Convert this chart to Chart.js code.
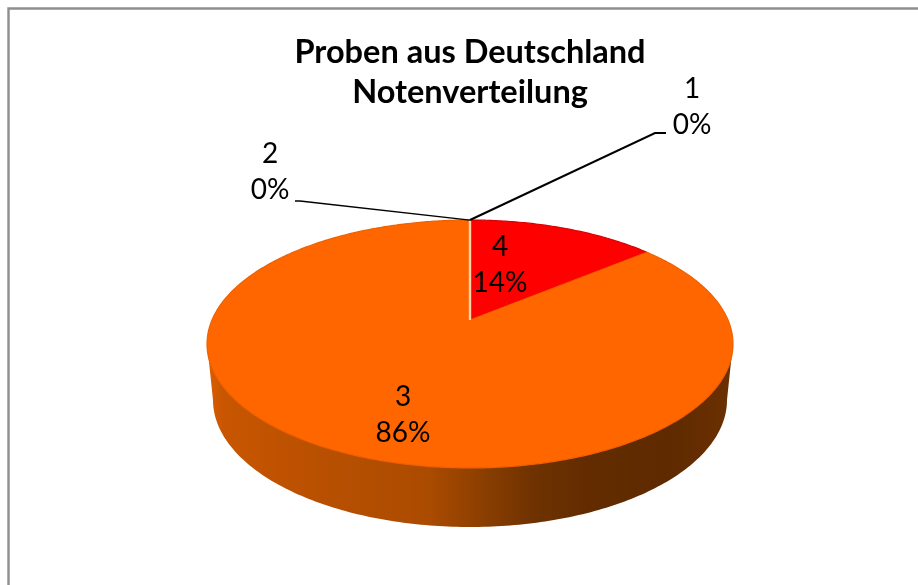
<!DOCTYPE html>
<html>
<head>
<meta charset="utf-8">
<style>html,body{margin:0;padding:0;background:#fff;overflow:hidden}canvas{display:block}</style>
<script src="https://cdn.jsdelivr.net/npm/chart.js@4"></script>
</head>
<body>
<canvas id="c" width="918" height="585"></canvas>
<script>
const categories = ['4', '3', '2', '1'];
const shares = [14, 86, 0, 0];
const sliceColors = ['#FF0000', '#FF6600', '#A5A5A5', '#4472C4'];
const sliceEdges = ['#D80000', '#EE6000', '#A5A5A5', '#4472C4'];
const titleLines = ['Proben aus Deutschland', 'Notenverteilung'];

const FONT = 'Lato, Carlito, sans-serif';
// Perspective of the tilted pie: unit-circle (u,v) -> screen
const TILT = { cy: 320, a: 57.4, c: -0.1935 };
const RADIUS = 258;
const DEPTH = { cy: 400, rx: 257, ry: 127 };
const labelPlaces = {
  '4': { x: 500, y: 247 },
  '3': { x: 403, y: 397 },
  '2': { x: 270, y: 154, leader: [[300, 201], [295, 201]], lw: 1.3 },
  '1': { x: 692, y: 89, leader: [[655, 133], [666, 133]], lw: 2 }
};
const LABEL_GAP = 36;

function project(cx, r, angle) {
  const u = Math.cos(angle), v = Math.sin(angle), w = 1 + TILT.c * v;
  return [cx + r * u / w, (TILT.cy + TILT.a * v) / w];
}

// Slices come from the library's own angles; only the projection is changed.
Chart.ArcElement.prototype.draw = function (ctx) {
  const p = this.getProps(['x', 'startAngle', 'endAngle', 'outerRadius']);
  if (p.endAngle - p.startAngle <= 1e-6) return;
  const o = this.options;
  ctx.save();
  ctx.beginPath();
  ctx.moveTo(p.x, TILT.cy);
  const steps = Math.max(2, Math.ceil((p.endAngle - p.startAngle) * 90));
  for (let i = 0; i <= steps; i++) {
    const q = project(p.x, p.outerRadius, p.startAngle + (p.endAngle - p.startAngle) * i / steps);
    ctx.lineTo(q[0], q[1]);
  }
  ctx.closePath();
  ctx.fillStyle = o.backgroundColor;
  ctx.fill();
  ctx.lineWidth = o.borderWidth;
  ctx.strokeStyle = o.borderColor;
  ctx.lineJoin = 'round';
  ctx.stroke();
  ctx.restore();
};

const framePlugin = {
  id: 'frame',
  beforeDraw(chart) {
    const ctx = chart.ctx;
    ctx.save();
    ctx.strokeStyle = '#8E8E8E';
    ctx.lineWidth = 2.4;
    ctx.beginPath();
    ctx.moveTo(8.5, 585);
    ctx.lineTo(8.5, 8.5);
    ctx.lineTo(918, 8.5);
    ctx.stroke();
    ctx.restore();
  }
};

const sidePlugin = {
  id: 'side',
  beforeDatasetsDraw(chart) {
    const ctx = chart.ctx;
    const arc = chart.getDatasetMeta(0).data[1];
    const cx = arc.x, r = arc.outerRadius;
    const g = ctx.createLinearGradient(207, 0, 733, 0);
    [[0, '#DE5E00'], [0.03, '#C85600'], [0.2, '#BA5000'], [0.42, '#AB4B00'], [0.52, '#8C3F00'],
     [0.62, '#6F3200'], [0.72, '#632C00'], [0.88, '#5F2A00'], [1, '#6C3000']].forEach(s => g.addColorStop(s[0], s[1]));
    ctx.save();
    ctx.beginPath();
    for (let i = 0; i <= 180; i++) {
      const t = i * Math.PI / 180;
      const x = cx + DEPTH.rx * Math.cos(t), y = DEPTH.cy + DEPTH.ry * Math.sin(t);
      if (i === 0) ctx.moveTo(x, y); else ctx.lineTo(x, y);
    }
    const left = project(cx, r, Math.PI * 0.94), right = project(cx, r, Math.PI * 0.06);
    ctx.lineTo(left[0], left[1]);
    ctx.lineTo(right[0], right[1]);
    ctx.closePath();
    ctx.fillStyle = g;
    ctx.fill();
    ctx.restore();
  }
};

const labelPlugin = {
  id: 'sliceLabels',
  afterDatasetsDraw(chart) {
    const ctx = chart.ctx;
    const data = chart.data.datasets[0].data;
    const total = data.reduce((a, b) => a + b, 0);
    const arcs = chart.getDatasetMeta(0).data;
    const first = arcs[0];
    const apex = project(first.x, first.outerRadius, first.startAngle);
    ctx.save();
    // light seam between the slices at twelve o'clock
    ctx.strokeStyle = '#F9D3AE';
    ctx.lineWidth = 2.4;
    ctx.beginPath();
    ctx.moveTo(first.x, apex[1]);
    ctx.lineTo(first.x, TILT.cy);
    ctx.stroke();
    // leader lines of the empty slices
    ctx.strokeStyle = '#000';
    chart.data.labels.forEach((name, i) => {
      const place = labelPlaces[name];
      if (!place.leader) return;
      const p = project(arcs[i].x, arcs[i].outerRadius, arcs[i].startAngle);
      ctx.lineWidth = place.lw;
      ctx.beginPath();
      ctx.moveTo(p[0], p[1]);
      place.leader.forEach(q => ctx.lineTo(q[0], q[1]));
      ctx.stroke();
    });
    ctx.fillStyle = '#000';
    ctx.font = '28px ' + FONT;
    ctx.textAlign = 'center';
    ctx.textBaseline = 'middle';
    chart.data.labels.forEach((name, i) => {
      const place = labelPlaces[name];
      ctx.fillText(name, place.x, place.y);
      ctx.fillText(Math.round(data[i] / total * 100) + '%', place.x, place.y + LABEL_GAP);
    });
    ctx.restore();
  }
};

new Chart(document.getElementById('c'), {
  type: 'pie',
  data: {
    labels: categories,
    datasets: [{
      data: shares,
      backgroundColor: sliceColors,
      borderColor: sliceEdges,
      borderWidth: 1.2,
      clip: false
    }]
  },
  options: {
    responsive: false,
    animation: false,
    radius: RADIUS,
    rotation: 0,
    layout: { padding: { left: 212, right: 190, top: 0, bottom: 0 } },
    plugins: {
      legend: { display: false },
      tooltip: { enabled: false },
      title: {
        display: true,
        text: titleLines,
        color: '#000',
        font: { family: FONT, size: 32.5, weight: 'bold', lineHeight: 1.24 },
        padding: { top: 32, bottom: 8 }
      }
    }
  },
  plugins: [framePlugin, sidePlugin, labelPlugin]
});
</script>
</body>
</html>
